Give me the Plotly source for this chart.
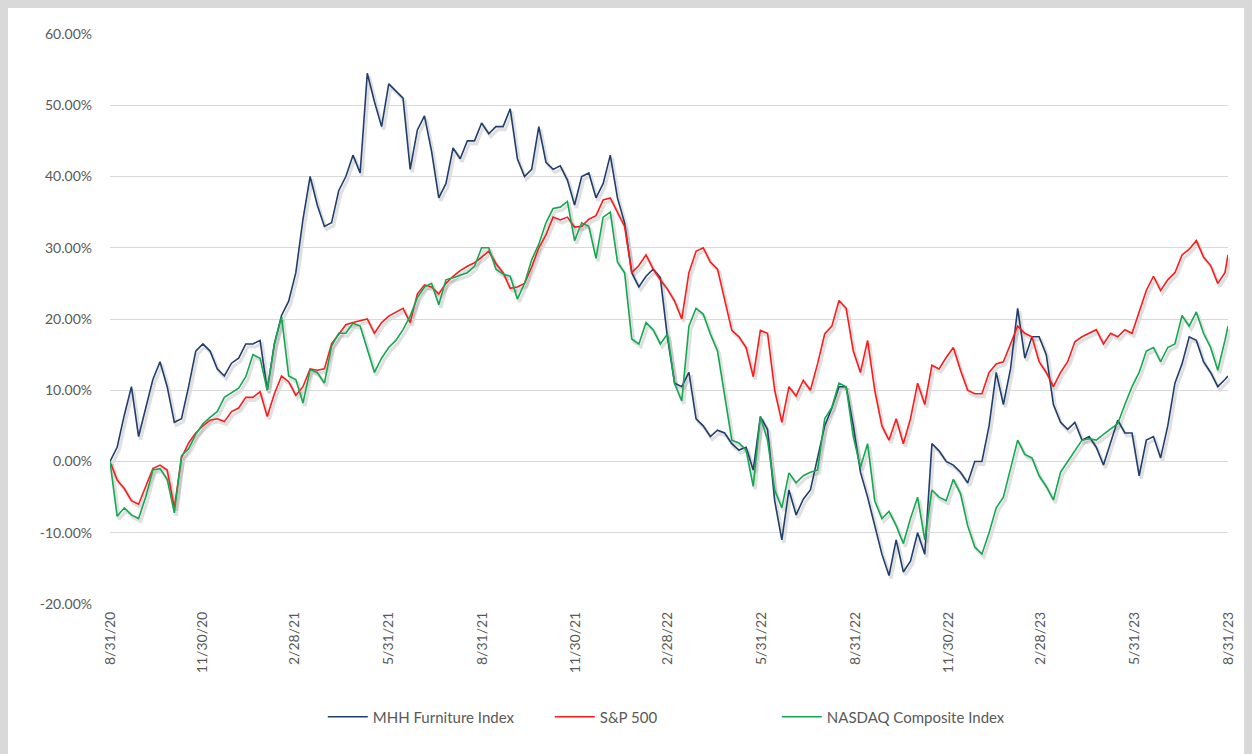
import pandas as pd
import plotly.graph_objects as go

# ---------------- data (percent return since 8/31/20, weekly readings) ----------------
dates = list(pd.date_range("2020-08-31", periods=157, freq="7D").strftime("%Y-%m-%d")) + ["2023-08-31"]

mhh = [0, 2.0, 6.5, 10.5, 3.5, 7.5, 11.5, 14.0, 10.5, 5.5,
       6.0, 10.5, 15.5, 16.5, 15.5, 13.0, 12.0, 13.8, 14.5, 16.5,
       16.5, 17.0, 10.0, 16.5, 20.5, 22.5, 26.5, 34.0, 40.0, 36.0,
       33.0, 33.5, 38.0, 40.0, 43.0, 40.5, 54.5, 50.5, 47.0, 53.0,
       52.0, 51.0, 41.0, 46.5, 48.5, 43.5, 37.0, 39.0, 44.0, 42.5,
       45.0, 45.0, 47.5, 46.0, 47.0, 47.0, 49.5, 42.5, 40.0, 41.0,
       47.0, 42.0, 41.0, 41.5, 39.5, 36.0, 40.0, 40.5, 37.0, 39.0,
       43.0, 37.0, 33.5, 26.5, 24.5, 26.0, 27.0, 25.8, 17.4, 11.0,
       10.5, 12.5, 6.0, 5.0, 3.5, 4.4, 4.0, 2.5, 1.6, 2.0,
       -1.2, 6.3, 4.5, -5.5, -11.0, -4.0, -7.5, -5.3, -4.0, 0.7,
       5.0, 7.5, 10.5, 10.5, 5.0, -1.5, -5.0, -9.0, -13.0, -16.0,
       -11.0, -15.5, -14.0, -10.0, -13.0, 2.5, 1.5, 0.0, -0.5, -1.5,
       -3.0, 0.0, 0.0, 5.0, 12.5, 8.0, 13.0, 21.5, 14.5, 17.5,
       17.5, 15.0, 8.0, 5.5, 4.5, 5.5, 3.0, 3.5, 2.0, -0.5,
       2.5, 5.8, 4.0, 4.0, -2.0, 3.0, 3.5, 0.5, 5.0, 11.0,
       13.7, 17.5, 17.0, 14.0, 12.5, 10.5, 11.5, 12.0]

sp500 = [0, -2.6, -3.8, -5.5, -6.0, -3.5, -1.0, -0.5, -1.2, -6.5,
         0.5, 2.6, 4.0, 5.0, 5.8, 6.0, 5.6, 7.0, 7.5, 9.0,
         9.0, 9.8, 6.3, 9.5, 12.0, 11.2, 9.3, 10.5, 13.0, 12.8,
         13.0, 16.5, 17.8, 19.2, 19.5, 19.8, 20.0, 18.0, 19.5, 20.4,
         21.0, 21.5, 19.5, 23.5, 24.8, 24.5, 23.5, 25.0, 26.0, 26.8,
         27.4, 27.9, 28.7, 29.5, 27.8, 26.5, 24.3, 24.5, 25.0, 27.3,
         30.0, 31.8, 34.3, 33.9, 34.3, 32.9, 33.0, 34.0, 34.5, 36.7,
         37.0, 35.0, 33.0, 26.5, 27.5, 29.0, 27.0, 25.5, 24.2, 22.5,
         20.0, 26.5, 29.5, 30.0, 28.0, 27.0, 22.6, 18.4, 17.5, 16.0,
         11.9, 18.4, 18.0, 10.0, 5.5, 10.5, 9.2, 11.4, 10.0, 13.7,
         17.9, 19.0, 22.6, 21.5, 15.5, 12.5, 17.0, 10.0, 5.0, 3.0,
         6.0, 2.5, 6.0, 11.0, 8.0, 13.5, 13.0, 14.6, 16.0, 12.8,
         10.0, 9.5, 9.5, 12.5, 13.7, 14.0, 16.5, 19.0, 18.0, 17.5,
         14.0, 12.5, 10.5, 12.5, 14.0, 16.8, 17.5, 18.0, 18.5, 16.5,
         18.0, 17.5, 18.5, 18.0, 21.0, 24.0, 26.0, 24.0, 25.5, 26.5,
         29.0, 29.8, 31.0, 28.7, 27.5, 25.0, 26.5, 29.0]

nasdaq = [0, -7.7, -6.5, -7.5, -8.0, -5.0, -1.2, -1.0, -2.5, -7.2,
          0.8, 1.8, 3.8, 5.3, 6.2, 7.0, 9.0, 9.7, 10.3, 11.9,
          15.0, 14.5, 10.0, 16.5, 20.3, 12.0, 11.5, 8.2, 12.9, 12.5,
          11.0, 16.2, 18.0, 18.0, 19.4, 19.0, 15.7, 12.5, 14.5, 16.0,
          17.0, 18.5, 20.4, 23.0, 24.5, 25.0, 22.0, 25.5, 25.8, 26.2,
          26.5, 27.4, 30.0, 30.0, 27.0, 26.3, 26.0, 22.8, 25.0, 28.3,
          30.5, 33.5, 35.5, 35.7, 36.5, 31.0, 33.5, 33.0, 28.5, 34.3,
          35.0, 28.0, 26.5, 17.2, 16.5, 19.5, 18.5, 16.5, 17.9, 10.9,
          8.5, 19.0, 21.5, 20.7, 17.9, 15.5, 9.5, 3.0, 2.6, 1.6,
          -3.5, 6.3, 3.0, -4.0, -6.5, -1.6, -3.0, -2.0, -1.5, -1.2,
          6.0, 7.6, 11.0, 10.5, 3.5, -0.8, 2.5, -5.5, -8.0, -7.0,
          -9.0, -11.5, -8.0, -5.0, -11.0, -4.0, -5.0, -5.5, -2.5, -4.5,
          -9.0, -12.0, -13.0, -10.0, -6.5, -5.0, -1.0, 3.0, 1.0, 0.5,
          -2.0, -3.5, -5.4, -1.5, 0.0, 1.5, 3.0, 3.2, 3.0, 3.8,
          4.5, 5.3, 8.0, 10.5, 12.5, 15.5, 16.0, 14.0, 16.0, 16.5,
          20.5, 19.0, 21.0, 18.0, 16.0, 12.8, 17.0, 19.0]

series_names = ["MHH Furniture Index", "S&P 500", "NASDAQ Composite Index"]
series_values = [mhh, sp500, nasdaq]
series_colors = ["#203f6b", "#ff1a1a", "#14a850"]

tick_dates = ["2020-08-31", "2020-11-30", "2021-02-28", "2021-05-31", "2021-08-31",
              "2021-11-30", "2022-02-28", "2022-05-31", "2022-08-31", "2022-11-30",
              "2023-02-28", "2023-05-31", "2023-08-31"]
tick_labels = ["8/31/20", "11/30/20", "2/28/21", "5/31/21", "8/31/21", "11/30/21",
               "2/28/22", "5/31/22", "8/31/22", "11/30/22", "2/28/23", "5/31/23", "8/31/23"]
y_ticks = [-20, -10, 0, 10, 20, 30, 40, 50, 60]
y_tick_labels = ["-20.00%", "-10.00%", "0.00%", "10.00%", "20.00%",
                 "30.00%", "40.00%", "50.00%", "60.00%"]
y_range = [-20, 60]
x_range = ["2020-08-31", "2023-08-31"]

# ---------------- layout geometry ----------------
W, H = 1252, 754
ML, MR, MT, MB = 110, 22, 34, 147
PW, PH = W - ML - MR, H - MT - MB
DX, DY = 2 / PW, 3 / PH          # shadow offset as a fraction of the plot area

TEXT = "#595959"
GRID = "#d9d9d9"
FONT = "Lato, Carlito, 'Open Sans', sans-serif"

fig = go.Figure()

# soft drop shadows (same data, drawn on an offset copy of the axes)
for vals in series_values:
    fig.add_trace(go.Scatter(x=dates, y=vals, mode="lines", xaxis="x", yaxis="y",
                             line=dict(color="rgba(60,60,60,0.16)", width=3.2),
                             showlegend=False, hoverinfo="skip"))

for name, vals, col in zip(series_names, series_values, series_colors):
    fig.add_trace(go.Scatter(x=dates, y=vals, mode="lines", name=name,
                             xaxis="x2", yaxis="y2",
                             line=dict(color=col, width=1.6)))

zero_pos = DY + (1 - DY) * (0 - y_range[0]) / (y_range[1] - y_range[0])

fig.update_layout(
    width=W, height=H,
    margin=dict(l=ML, r=MR, t=MT, b=MB),
    paper_bgcolor="#d9d9d9",
    plot_bgcolor="rgba(0,0,0,0)",
    font=dict(family=FONT, color=TEXT, size=14),
    xaxis=dict(domain=[DX, 1], range=x_range, type="date", visible=False, anchor="y"),
    yaxis=dict(domain=[0, 1 - DY], range=y_range, visible=False, anchor="x"),
    xaxis2=dict(domain=[0, 1 - DX], range=x_range, type="date", anchor="y2",
                tickmode="array", tickvals=tick_dates, ticktext=tick_labels, tickangle=-90,
                showgrid=False, zeroline=False, showline=False, ticks="",
                tickfont=dict(size=14, color=TEXT), ticklabelstandoff=4),
    yaxis2=dict(domain=[DY, 1], range=y_range, anchor="x2",
                tickmode="array", tickvals=y_ticks, ticktext=y_tick_labels,
                showgrid=True, gridcolor=GRID, gridwidth=1,
                zeroline=True, zerolinecolor=GRID, zerolinewidth=1,
                showline=False, ticks="", tickfont=dict(size=14, color=TEXT),
                ticklabelstandoff=17),
    xaxis3=dict(overlaying="x2", anchor="free", position=zero_pos, range=x_range,
                type="date", tickmode="array", tickvals=tick_dates, showticklabels=False,
                ticks="outside", ticklen=4, tickcolor=GRID, tickwidth=1,
                showgrid=False, zeroline=False, showline=False),
    legend=dict(orientation="h", x=0.494, xanchor="center", y=(MT + PH - 717) / PH,
                yanchor="middle", font=dict(size=15, color=TEXT),
                bgcolor="rgba(0,0,0,0)", entrywidth=172, itemwidth=40),
    shapes=[dict(type="rect", xref="paper", yref="paper", layer="below",
                 x0=(8 - ML) / PW, x1=(W - 8 - ML) / PW,
                 y0=-0.4, y1=(MT + PH - 8) / PH,
                 fillcolor="white", line=dict(width=0))],
    showlegend=True,
)

fig.write_html("out.html", config={"displayModeBar": False},
               post_script="document.body.style.margin='0';document.body.style.overflow='hidden';")
